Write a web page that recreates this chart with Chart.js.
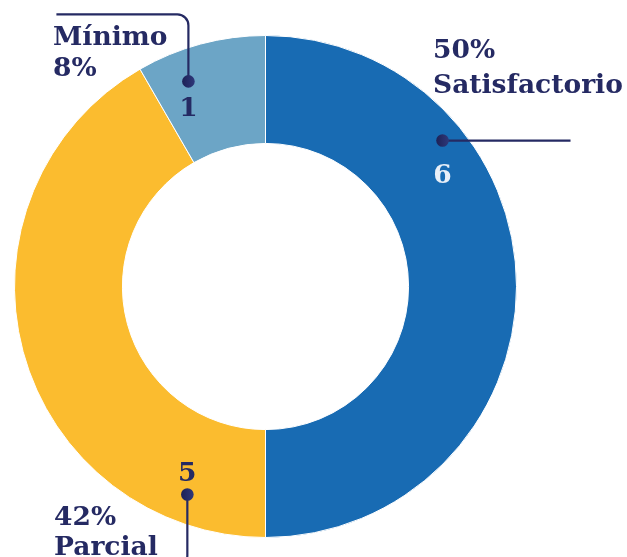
<!DOCTYPE html>
<html>
<head>
<meta charset="utf-8">
<script src="https://cdn.jsdelivr.net/npm/chart.js@4/dist/chart.umd.min.js"></script>
<style>
  html, body { margin: 0; padding: 0; background: #ffffff; }
  canvas { display: block; }
</style>
</head>
<body>
<canvas id="c" width="627" height="557"></canvas>
<script>
// ---- data ----
const categories = ['Satisfactorio', 'Parcial', 'Mínimo'];
const counts = [6, 5, 1];
const sliceColors = ['#186bb3', '#fbbc2f', '#6ca5c6'];

const total = counts.reduce((a, b) => a + b, 0);
const percents = counts.map(v => Math.round(v / total * 100) + '%');

const NAVY = '#252a63';
const FONT = 'bold 26.5px "DejaVu Serif", "Liberation Serif", serif';

// annotation layout (angle in degrees clockwise from top, r = fraction of outer radius)
const annotationLayout = [
  { // Satisfactorio
    angle: 50.5, r: 0.914, numColor: '#e8eff8', numDy: 42,
    leader: [[128, 0]],
    textX: 433, lines: [{ t: 'pct', y: 58 }, { t: 'cat', y: 93 }]
  },
  { // Parcial
    angle: 200.6, r: 0.885, numColor: NAVY, numDy: -13,
    leader: [[0, 72], [-20, 72]],
    textX: 54, lines: [{ t: 'pct', y: 525 }, { t: 'cat', y: 555 }]
  },
  { // Minimo
    angle: -20.6, r: 0.873, numColor: NAVY, numDy: 35,
    leader: [[0, -67], [-132, -67]],
    textX: 53, lines: [{ t: 'cat', y: 45 }, { t: 'pct', y: 76 }]
  }
];

const annotatePlugin = {
  id: 'annotate',
  afterDatasetsDraw(chart) {
    const ctx = chart.ctx;
    const meta = chart.getDatasetMeta(0);
    const a0 = meta.data[0];
    const cx = a0.x, cy = a0.y, R = a0.outerRadius;
    ctx.save();
    annotationLayout.forEach((ann, i) => {
      const th = ann.angle * Math.PI / 180;
      const dx = cx + Math.sin(th) * R * ann.r;
      const dy = cy - Math.cos(th) * R * ann.r;
      // leader line
      ctx.beginPath();
      ctx.strokeStyle = NAVY;
      ctx.lineWidth = 2.2;
      ctx.moveTo(dx, dy);
      const pts = ann.leader.map(p => [dx + p[0], dy + p[1]]);
      if (pts.length === 1) {
        ctx.lineTo(pts[0][0], pts[0][1]);
      } else {
        ctx.arcTo(pts[0][0], pts[0][1], pts[1][0], pts[1][1], 11);
        ctx.lineTo(pts[1][0], pts[1][1]);
      }
      ctx.stroke();
      // dot
      const g = ctx.createLinearGradient(dx - 6, dy, dx + 6, dy);
      g.addColorStop(0, '#1e2257');
      g.addColorStop(1, '#2e3779');
      ctx.beginPath();
      ctx.fillStyle = g;
      ctx.arc(dx, dy, 6.3, 0, Math.PI * 2);
      ctx.fill();
      // value number
      ctx.font = FONT;
      ctx.textAlign = 'center';
      ctx.textBaseline = 'alphabetic';
      ctx.fillStyle = ann.numColor;
      ctx.fillText(String(counts[i]), dx, dy + ann.numDy);
      // category and percent texts
      ctx.textAlign = 'left';
      ctx.fillStyle = NAVY;
      ann.lines.forEach(l => {
        const txt = l.t === 'pct' ? percents[i] : categories[i];
        ctx.fillText(txt, ann.textX, l.y);
      });
    });
    ctx.restore();
  }
};

new Chart(document.getElementById('c'), {
  type: 'doughnut',
  data: {
    labels: categories,
    datasets: [{
      data: counts,
      backgroundColor: sliceColors,
      borderColor: '#ffffff',
      borderWidth: 1
    }]
  },
  options: {
    responsive: false,
    animation: false,
    devicePixelRatio: 1,
    cutout: '57%',
    rotation: 0,
    layout: { padding: { top: 35, bottom: 19, left: 14, right: 110 } },
    plugins: {
      legend: { display: false },
      tooltip: { enabled: false }
    }
  },
  plugins: [annotatePlugin]
});
</script>
</body>
</html>
